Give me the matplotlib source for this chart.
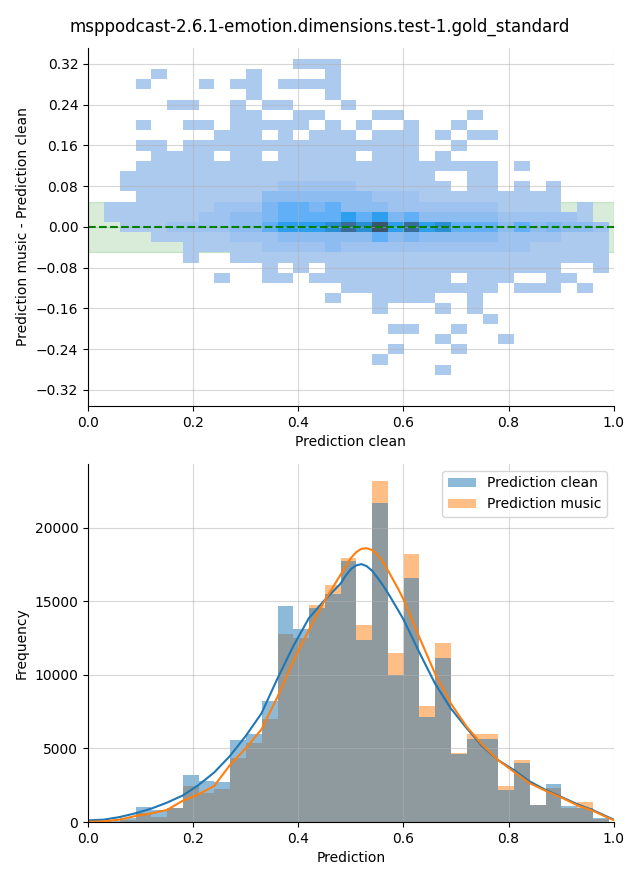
#!/usr/bin/env python3

"""Prediction clean vs music: difference heatmap and prediction histograms"""

import matplotlib

matplotlib.use("Agg")
import matplotlib.pyplot as plt
from matplotlib.patches import Patch
import numpy as np
import seaborn as sns

title = "msppodcast-2.6.1-emotion.dimensions.test-1.gold_standard"

# 2D histogram (x = prediction clean, y = music - clean)
hist2d_x_edges = np.linspace(0.0304, 0.9905, 33)
hist2d_y_edges = np.linspace(-0.29, 0.33, 32)

# one string per y bin, top row (0.32) first; '.' empty, '1'..'9' light..dark
hist2d_rows = [
    "............111.................",
    "...1.....1....1.................",
    "..1...1.11.1111.................",
    ".........1....1.................",
    "....11..1.11...1................",
    "........11..11...11....1........",
    "..1..11.11111.1.1..1..1.........",
    ".......111.1.111.111.1.11.......",
    "..11.111111111111111..1.........",
    "...1111.11.11111.111.1..........",
    "..11111111111111111111111.1.....",
    ".11111111111111111111..11.......",
    ".111111111122222111111.11.1.1...",
    "..111111113333333222111111111...",
    "11111112224554533322222221111.1.",
    "1111112233455556564533333222221.",
    ".1112222335666787968675553534332",
    "...11111222333333534333332222111",
    ".....111112222322222222222211111",
    ".....1..111111111111111111111111",
    "..........1.1.111111111111111..1",
    ".......1..11.111111111.111..11..",
    "...............1111111111.111.1.",
    "..............1..1111..1........",
    ".................1...1.1........",
    "........................1.......",
    "..................11..1.........",
    ".....................1...1......",
    "..................1...1.........",
    ".................1..............",
    ".....................1..........",
]
level_counts = {
    "1": 3, "2": 500, "3": 1000, "4": 1450, "5": 2100,
    "6": 3300, "7": 4600, "8": 6900, "9": 8700,
}

# 1D histograms of the predictions
hist_edges = np.linspace(0.0304, 0.9905, 33)
clean_counts = [
    60, 250, 1000, 820, 950, 3200, 2790, 2700, 5580, 5990, 8230, 14690,
    13130, 14560, 15510, 17760, 12380, 21700, 10000, 16600, 7140, 11160,
    4630, 5650, 5650, 2180, 4010, 1150, 2590, 1100, 950, 250,
]
music_counts = [
    30, 150, 600, 340, 950, 2450, 1970, 2250, 4350, 5370, 7000, 12790,
    12520, 14760, 16120, 17960, 13400, 23200, 11500, 18200, 7890, 12180,
    4700, 5990, 5990, 2450, 4220, 1150, 2310, 950, 1360, 200,
]

# density curves scaled to counts
kde_x = [
    0.0, 0.03, 0.06, 0.09, 0.12, 0.15, 0.18, 0.21, 0.24, 0.27, 0.30, 0.33,
    0.36, 0.39, 0.42, 0.45, 0.48, 0.49, 0.50, 0.51, 0.52, 0.53, 0.54, 0.55,
    0.56, 0.57, 0.58, 0.59, 0.60, 0.63, 0.66, 0.69, 0.72, 0.75, 0.78, 0.81,
    0.84, 0.87, 0.90, 0.93, 0.96, 0.99, 1.0,
]
clean_kde = [
    110, 160, 335, 590, 905, 1315, 1800, 2510, 3370, 4490, 5850, 7390,
    9730, 11930, 13860, 15090, 16200, 16750, 17200, 17450, 17540, 17400, 17100, 16650,
    16150, 15600, 15000, 14400, 13780, 11550, 9420, 7730, 6390, 5150, 4210, 3535,
    2760, 2190, 1710, 1220, 815, 320, 170,
]
music_kde = [
    20, 45, 160, 405, 590, 815, 1440, 1880, 2450, 3880, 5010, 6300,
    8480, 10900, 13060, 15040, 16800, 17400, 17950, 18350, 18580, 18620, 18500, 18200,
    17750, 17150, 16500, 15850, 15150, 12580, 10100, 8070, 6490, 5240, 4210, 3420,
    2640, 2130, 1670, 1150, 770, 270, 130,
]


def main():
    xs, ys, ws = [], [], []
    n_rows = len(hist2d_rows)
    for r, row in enumerate(hist2d_rows):
        assert len(row) == 32, (r, len(row))
        j = n_rows - 1 - r
        yc = (hist2d_y_edges[j] + hist2d_y_edges[j + 1]) / 2
        for k, ch in enumerate(row):
            if ch == ".":
                continue
            xs.append((hist2d_x_edges[k] + hist2d_x_edges[k + 1]) / 2)
            ys.append(yc)
            ws.append(level_counts[ch])

    fig, (ax1, ax2) = plt.subplots(2, 1, figsize=(6.4, 8.8))
    fig.subplots_adjust(left=0.1375, right=0.959, bottom=0.0659, top=0.9455, hspace=0.162)
    fig.suptitle(title)

    # top: difference vs clean prediction
    ax1.axhspan(-0.05, 0.05, color="green", alpha=0.15, zorder=0)
    sns.histplot(x=xs, y=ys, weights=ws, bins=(hist2d_x_edges, hist2d_y_edges), ax=ax1)
    ax1.axhline(0, color="green", linestyle="--", linewidth=1.5)
    ax1.set_xlim(0, 1)
    ax1.set_ylim(-0.3514, 0.3514)
    ax1.set_yticks(np.arange(-0.32, 0.33, 0.08))
    ax1.set_xlabel("Prediction clean")
    ax1.set_ylabel("Prediction music - Prediction clean")
    ax1.grid(alpha=0.5)

    # bottom: both prediction distributions
    ax2.hist(hist_edges[:-1], bins=hist_edges, weights=music_counts, color="C1", alpha=0.5)
    ax2.hist(hist_edges[:-1], bins=hist_edges, weights=clean_counts, color="C0", alpha=0.5)
    ax2.plot(kde_x, clean_kde, color="C0", linewidth=1.5)
    ax2.plot(kde_x, music_kde, color="C1", linewidth=1.5)
    ax2.set_xlim(0, 1)
    ax2.set_ylim(0, 24350)
    ax2.set_xlabel("Prediction")
    ax2.set_ylabel("Frequency")
    ax2.grid(alpha=0.5)
    ax2.legend(
        handles=[
            Patch(facecolor="C0", alpha=0.5, label="Prediction clean"),
            Patch(facecolor="C1", alpha=0.5, label="Prediction music"),
        ],
        loc="upper right",
    )

    for ax in (ax1, ax2):
        sns.despine(ax=ax)

    fig.savefig("out.png", dpi=100)


if __name__ == "__main__":
    main()
